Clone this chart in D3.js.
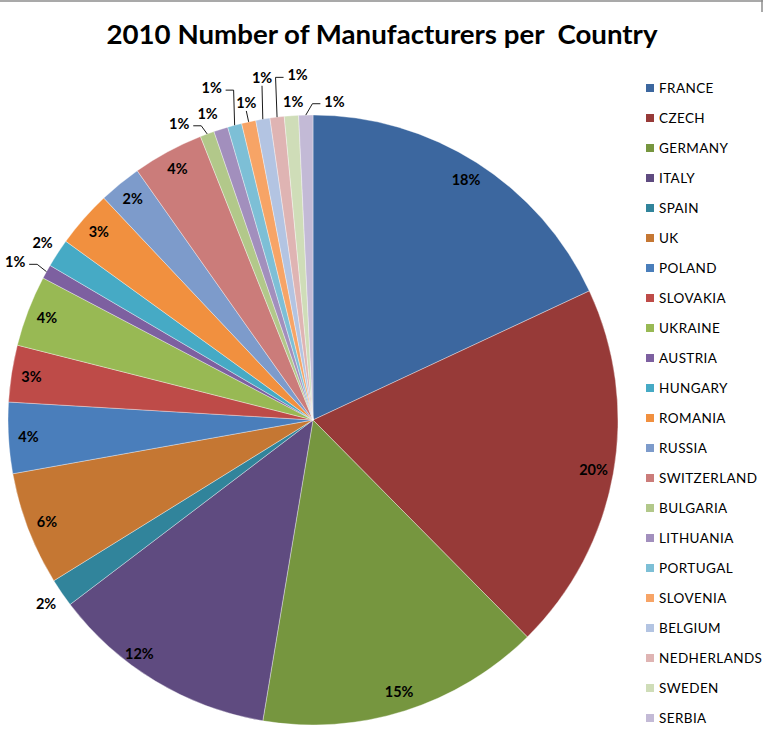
<!DOCTYPE html>
<html>
<head>
<meta charset="utf-8">
<script src="https://cdn.jsdelivr.net/npm/d3@7"></script>
<style>
  body { margin: 0; background: #fff; }
  svg { display: block; }
</style>
</head>
<body>
<svg></svg>
<script>
// data (counts, 133 in total)
let countries = ['FRANCE', 'CZECH', 'GERMANY', 'ITALY', 'SPAIN', 'UK', 'POLAND', 'SLOVAKIA',
  'UKRAINE', 'AUSTRIA', 'HUNGARY', 'ROMANIA', 'RUSSIA', 'SWITZERLAND', 'BULGARIA', 'LITHUANIA',
  'PORTUGAL', 'SLOVENIA', 'BELGIUM', 'NEDHERLANDS', 'SWEDEN', 'SERBIA']
let manufacturers = [24, 26, 20, 16, 2, 8, 5, 4, 5, 1, 2, 4, 3, 5, 1, 1, 1, 1, 1, 1, 1, 1]
let colors = ['#3c679f', '#973a38', '#76963f', '#5f4b80', '#31849b', '#c57733', '#4a7ebb', '#be4b48',
  '#98b954', '#7d60a0', '#46aac5', '#f1903f', '#7d9bcb', '#cb7c7a', '#b2c88a', '#a28fbd',
  '#7dbfd6', '#f7a466', '#b3c4e2', '#dfb4b3', '#cfddb8', '#c3bad6']

// label layout: radial offset from the rim (px), angle nudge (deg), leader line or not
let labelOffset = [-20, -20, -20, -14, 19, -20, -20, -20, -20, 32, 18, -20, -20, -20, 20, 19, 42, 19, 41, 40, 14, 14]
let labelNudge = [0, 0, 0, 5.5, 0, 0, 0, 0, 0, -1.2, 0, 0, 0, 0, -4, -1.4, -2.1, 0.3, 1, 4.2, 0.5, 5.2]
let labelLeader = [0, 0, 0, 0, 0, 0, 0, 0, 0, 1, 0, 0, 0, 0, 1, 0, 1, 1, 1, 1, 0, 1]

let width = 763
let height = 733
let cx = 313
let cy = 420
let radius = 305

let svg = d3.select('svg').attr('width', width).attr('height', height)

let total = d3.sum(manufacturers)
let values = countries.map((c, i) => ({ name: c, value: manufacturers[i], color: colors[i], i: i }))

// frame remains
svg.append('line').attr('x1', 0).attr('x2', width).attr('y1', 1).attr('y2', 1)
  .attr('stroke', '#8c8c8c').attr('stroke-width', 1.5)
svg.append('line').attr('x1', width - 1).attr('x2', width - 1).attr('y1', 0).attr('y2', 12)
  .attr('stroke', '#8c8c8c').attr('stroke-width', 1.5)

svg.append('text')
  .attr('x', 382).attr('y', 44)
  .attr('text-anchor', 'middle')
  .attr('font-family', 'Lato, "Open Sans", sans-serif')
  .attr('font-weight', 'bold')
  .attr('font-size', 26)
  .attr('textLength', 551)
  .attr('lengthAdjust', 'spacingAndGlyphs')
  .attr('fill', '#000')
  .style('white-space', 'pre')
  .text('2010 Number of Manufacturers per  Country')

let pie = d3.pie().sort(null).value(d => d.value)
let arcs = pie(values)
let arc = d3.arc().innerRadius(0).outerRadius(radius)

let g = svg.append('g').attr('transform', 'translate(' + cx + ',' + cy + ')')

g.selectAll('path')
  .data(arcs)
  .enter()
  .append('path')
  .attr('d', arc)
  .attr('fill', d => d.data.color)
  .attr('stroke', '#ffffff')
  .attr('stroke-opacity', 0.45)
  .attr('stroke-width', 0.8)

let polar = (ang, r) => [Math.sin(ang) * r, -Math.cos(ang) * r]

let fmt = d => Math.round(d.value / total * 100) + '%'

arcs.forEach(d => {
  let i = d.data.i
  let mid = (d.startAngle + d.endAngle) / 2
  let ang = mid + labelNudge[i] * Math.PI / 180
  let [lx, ly] = polar(ang, radius + labelOffset[i])

  g.append('text')
    .attr('x', lx).attr('y', ly)
    .attr('dy', '0.35em')
    .attr('text-anchor', 'middle')
    .attr('font-family', 'Lato, "Open Sans", sans-serif')
    .attr('font-weight', 'bold')
    .attr('font-size', 14.5)
    .attr('fill', '#000')
    .text(fmt(d.data))

  if (labelLeader[i]) {
    let [ex, ey] = polar(mid, radius)
    let hw = 12
    let pts
    if (Math.abs(ex - lx) < hw) {
      pts = [[lx, ly + 8], [ex, ey]]
    } else {
      let side = ex > lx ? 1 : -1
      let ax = lx + side * (hw + 2)
      pts = [[ax, ly + 2], [ax + side * 8, ly + 2], [ex, ey]]
    }
    g.append('path')
      .attr('d', d3.line()(pts))
      .attr('fill', 'none')
      .attr('stroke', '#000')
      .attr('stroke-width', 0.9)
  }
})

// legend
let legendY = d3.scalePoint().domain(countries).range([88, 718])

let legend = svg.append('g')
  .selectAll('g')
  .data(values)
  .enter()
  .append('g')
  .attr('transform', d => 'translate(646,' + legendY(d.name) + ')')

legend.append('rect')
  .attr('x', 0).attr('y', -4)
  .attr('width', 8).attr('height', 8)
  .attr('fill', d => d.color)

legend.append('text')
  .attr('x', 13).attr('y', 0)
  .attr('dy', '0.36em')
  .attr('font-family', 'Lato, "Open Sans", sans-serif')
  .attr('font-size', 13.5)
  .attr('letter-spacing', 0.4)
  .attr('fill', '#000')
  .text(d => d.name)
</script>
</body>
</html>
